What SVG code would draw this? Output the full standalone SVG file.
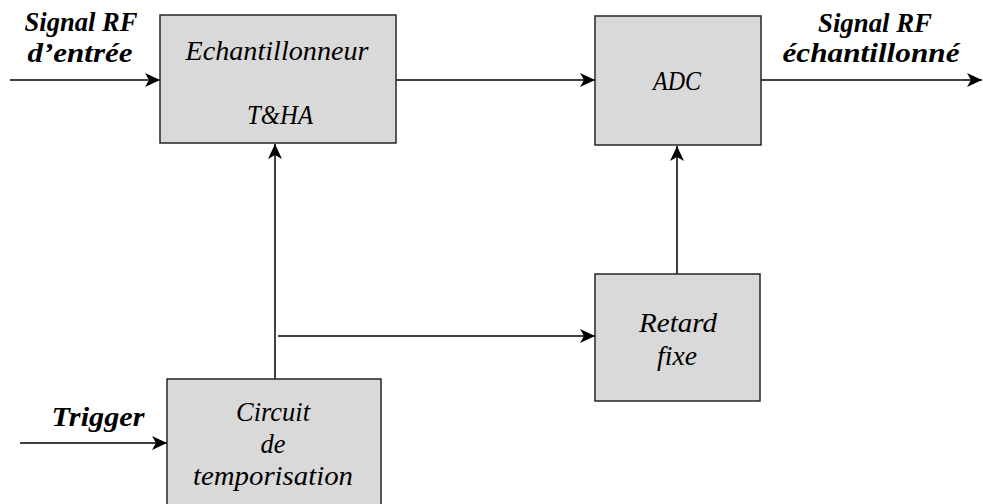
<svg xmlns="http://www.w3.org/2000/svg" width="983" height="504" viewBox="0 0 983 504">
<defs>
<style>
.box{fill:#d9d9d9;stroke:#262626;stroke-width:1.5}
.ln{fill:none;stroke:#000;stroke-width:1.5}
.t{font-family:"Liberation Serif",serif;font-style:italic;font-size:27px;fill:#000;text-anchor:middle}
.lb{font-family:"Liberation Serif",serif;font-style:italic;font-weight:bold;font-size:27px;fill:#000;text-anchor:middle}
</style>
<marker id="ah" markerWidth="16" markerHeight="14" refX="15" refY="7" orient="auto" markerUnits="userSpaceOnUse">
<path d="M0,0 L15,7 L0,14 L4,7 Z" fill="#000"/>
</marker>
</defs>
<rect width="983" height="504" fill="#fff"/>
<g id="connectors">
<line class="ln" x1="10" y1="80" x2="160" y2="80" marker-end="url(#ah)"/>
<line class="ln" x1="396" y1="80" x2="595" y2="80" marker-end="url(#ah)"/>
<line class="ln" x1="761" y1="80" x2="982" y2="80" marker-end="url(#ah)"/>
<line class="ln" x1="275" y1="379" x2="275" y2="144" marker-end="url(#ah)"/>
<line class="ln" x1="278" y1="336" x2="595" y2="336" marker-end="url(#ah)"/>
<line class="ln" x1="677" y1="274" x2="677" y2="146" marker-end="url(#ah)"/>
<line class="ln" x1="20" y1="443" x2="167" y2="443" marker-end="url(#ah)"/>
</g>
<g id="labels">
<text class="lb" x="81" y="31" textLength="113" lengthAdjust="spacingAndGlyphs">Signal RF</text>
<text class="lb" x="80" y="62" textLength="105" lengthAdjust="spacingAndGlyphs">d’entrée</text>
<text class="lb" x="875" y="32" textLength="114" lengthAdjust="spacingAndGlyphs">Signal RF</text>
<text class="lb" x="871" y="62" textLength="177" lengthAdjust="spacingAndGlyphs">échantillonné</text>
<text class="lb" x="98" y="426" textLength="93" lengthAdjust="spacingAndGlyphs">Trigger</text>
</g>
<g id="tha">
<rect class="box" x="160" y="15" width="236" height="128"/>
<text class="t" x="277" y="60" textLength="183" lengthAdjust="spacingAndGlyphs">Echantillonneur</text>
<text class="t" x="280" y="124" textLength="66" lengthAdjust="spacingAndGlyphs">T&amp;HA</text>
</g>
<g id="adc">
<rect class="box" x="595" y="16" width="166" height="129"/>
<text class="t" x="677" y="90" textLength="48" lengthAdjust="spacingAndGlyphs">ADC</text>
</g>
<g id="retard">
<rect class="box" x="595" y="274" width="165" height="127"/>
<text class="t" x="678" y="332" textLength="78" lengthAdjust="spacingAndGlyphs">Retard</text>
<text class="t" x="677" y="365" textLength="40" lengthAdjust="spacingAndGlyphs">fixe</text>
</g>
<g id="circuit">
<rect class="box" x="167" y="379" width="214" height="130"/>
<text class="t" x="273" y="421" textLength="74" lengthAdjust="spacingAndGlyphs">Circuit</text>
<text class="t" x="273" y="453" textLength="25" lengthAdjust="spacingAndGlyphs">de</text>
<text class="t" x="273" y="485" textLength="160" lengthAdjust="spacingAndGlyphs">temporisation</text>
</g>
</svg>
